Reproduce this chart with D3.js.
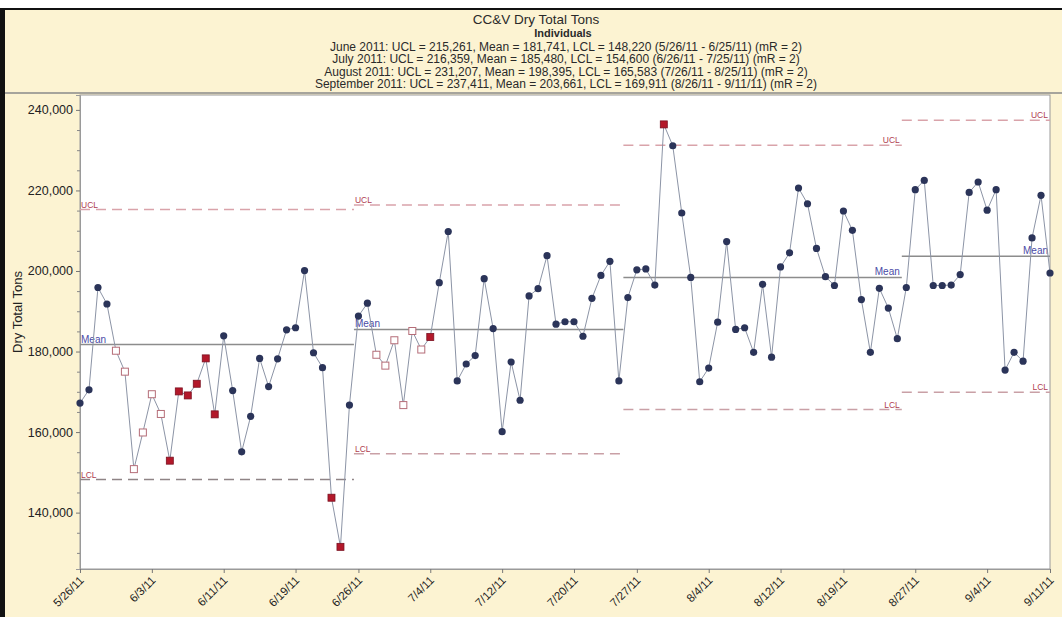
<!DOCTYPE html>
<html>
<head>
<meta charset="utf-8">
<script src="https://cdn.jsdelivr.net/npm/d3@7"></script>
<style>
  body { margin: 0; background: #fff; }
  svg { display: block; font-family: Arial, "Liberation Sans", sans-serif; }
</style>
</head>
<body>
<svg id="chart" width="1062" height="617"></svg>
<script>
// daily values, one per day starting 5/26/11
var firstDay = "2011-05-26";
var tons = [
  167200, 170500, 195900, 191800, 180200, 175000, 150800, 159900, 169400, 164500,
  152900, 170100, 169100, 172000, 178300, 164400, 183900, 170300, 155100, 163900,
  178300, 171300, 178200, 185400, 185900, 200100, 179700, 176000, 143700, 131500,
  166700, 188800, 192000, 179200, 176500, 182800, 166700, 185100, 180500, 183600,
  197100, 209800, 172700, 176900, 179000, 198100, 185700, 160100, 177400, 167900,
  193800, 195600, 203800, 186800, 187400, 187400, 183800, 193200, 198900, 202400,
  172700, 193400, 200300, 200500, 196500, 236400, 231100, 214400, 198400, 172500,
  175900, 187300, 207300, 185500, 185900, 179800, 196700, 178600, 201000, 204500,
  220600, 216700, 205600, 198600, 196400, 214900, 210100, 192900, 179800, 195700,
  190800, 183200, 195900, 220200, 222500, 196400, 196400, 196500, 199100, 219500,
  222100, 215100, 220200, 175400, 179800, 177600, 208200, 218800, 199500
];
// points flagged by the run rules (index into tons)
var openPts = [4, 5, 6, 7, 8, 9, 33, 34, 35, 36, 37, 38];
var redPts = [10, 11, 12, 13, 14, 15, 28, 29, 39, 65];

var periods = ["June 2011", "July 2011", "August 2011", "September 2011"];
var periodFrom = ["2011-05-26", "2011-06-26", "2011-07-26", "2011-08-26"];
var periodTo = ["2011-06-25", "2011-07-25", "2011-08-25", "2011-09-11"];
var ucl = [215261, 216359, 231207, 237411];
var mean = [181741, 185480, 198395, 203661];
var lcl = [148220, 154600, 165583, 169911];
var labelSide = ["left", "left", "right", "right"];

var xTicks = ["2011-05-26", "2011-06-03", "2011-06-11", "2011-06-19", "2011-06-26", "2011-07-04",
  "2011-07-12", "2011-07-20", "2011-07-27", "2011-08-04", "2011-08-12", "2011-08-19",
  "2011-08-27", "2011-09-04", "2011-09-11"];
var yTicks = [140000, 160000, 180000, 200000, 220000, 240000];

var parse = d3.timeParse("%Y-%m-%d");
var fmtNum = d3.format(",");
var fmtDate = function (d) { return (d.getMonth() + 1) + "/" + d.getDate() + "/" + String(d.getFullYear()).slice(2); };

var svg = d3.select("#chart");
var W = 1062, H = 617;
var pLeft = 80, pRight = 1050, pTop = 95, pBottom = 569;

// frame / background
svg.append("rect").attr("width", W).attr("height", H).attr("fill", "#fff");
svg.append("rect").attr("x", 0).attr("y", 9).attr("width", W).attr("height", H - 9).attr("fill", "#fcf3d2");
svg.append("line").attr("x1", 0).attr("x2", W).attr("y1", 9).attr("y2", 9).attr("stroke", "#111").attr("stroke-width", 2);
svg.append("rect").attr("x", 0).attr("y", 9).attr("width", 5).attr("height", H - 9).attr("fill", "#111");
svg.append("line").attr("x1", 5).attr("x2", W).attr("y1", 93).attr("y2", 93).attr("stroke", "#8a8a8a").attr("stroke-width", 1.5);
svg.append("rect").attr("x", pLeft).attr("y", pTop).attr("width", pRight - pLeft).attr("height", pBottom - pTop)
  .attr("fill", "#fff").attr("stroke", "#9a9a9a").attr("stroke-width", 1);

var start = parse(firstDay);
var days = tons.map(function (v, i) { return d3.timeDay.offset(start, i); });

var x = d3.scaleTime().domain([start, parse("2011-09-11")]).range([pLeft, pRight]);
var y = d3.scaleLinear().domain([126000, 243700]).range([pBottom, pTop]);

// titles
svg.append("text").attr("x", 536).attr("y", 24).attr("text-anchor", "middle").attr("font-size", 13.5).attr("fill", "#2a2a2a").text("CC&V Dry Total Tons");
svg.append("text").attr("x", 563).attr("y", 37).attr("text-anchor", "middle").attr("font-size", 11).attr("font-weight", "bold").attr("fill", "#2a2a2a").text("Individuals");
periods.forEach(function (p, i) {
  var line = p + ": UCL = " + fmtNum(ucl[i]) + ", Mean = " + fmtNum(mean[i]) + ", LCL = " + fmtNum(lcl[i]) +
    " (" + fmtDate(parse(periodFrom[i])) + " - " + fmtDate(parse(periodTo[i])) + ") (mR = 2)";
  svg.append("text").attr("x", 566).attr("y", 51 + i * 12.3).attr("text-anchor", "middle").attr("font-size", 12).attr("fill", "#2a2a2a").text(line);
});

// y axis
var yAxis = d3.axisLeft(y).tickValues(yTicks).tickFormat(fmtNum).tickSize(4).tickPadding(3);
var gy = svg.append("g").attr("transform", "translate(" + pLeft + ",0)").call(yAxis);
gy.select(".domain").attr("stroke", "#9a9a9a");
gy.selectAll(".tick line").attr("stroke", "#777");
gy.selectAll(".tick text").attr("font-size", 12.5).attr("fill", "#222").attr("font-family", "Arial, 'Liberation Sans', sans-serif");
var yMinor = d3.axisLeft(y).tickValues(d3.range(130000, 241000, 5000).filter(function (v) { return v % 20000 != 0; })).tickSize(3).tickFormat("");
var gym = svg.append("g").attr("transform", "translate(" + pLeft + ",0)").call(yMinor);
gym.select(".domain").remove();
gym.selectAll(".tick line").attr("stroke", "#888");

svg.append("text").attr("transform", "translate(22,312) rotate(-90)").attr("text-anchor", "middle")
  .attr("font-size", 13).attr("fill", "#222").text("Dry Total Tons");

// x axis
var xAxis = d3.axisBottom(x).tickValues(xTicks.map(parse)).tickFormat(fmtDate).tickSize(4);
var gx = svg.append("g").attr("transform", "translate(0," + pBottom + ")").call(xAxis);
gx.select(".domain").attr("stroke", "#9a9a9a");
gx.selectAll(".tick line").attr("stroke", "#777");
gx.selectAll(".tick text").attr("font-size", 11.5).attr("fill", "#222").attr("font-family", "Arial, 'Liberation Sans', sans-serif")
  .attr("text-anchor", "end").attr("dy", null).attr("y", 0)
  .attr("transform", "translate(4,12) rotate(-45)");

// control limit segments
var halfDay = 12 * 3600 * 1000;
function segX(i, which) {
  var d = which == 0 ? new Date(+parse(periodFrom[i]) - halfDay) : new Date(+parse(periodTo[i]) + halfDay);
  return Math.max(pLeft, Math.min(pRight, x(d)));
}
var limits = svg.append("g");
periods.forEach(function (p, i) {
  var x0 = segX(i, 0), x1 = segX(i, 1);
  limits.append("line").attr("x1", x0).attr("x2", x1).attr("y1", y(ucl[i])).attr("y2", y(ucl[i]))
    .attr("stroke", "#d9a3aa").attr("stroke-width", 1.5).attr("stroke-dasharray", "10,6");
  limits.append("line").attr("x1", x0).attr("x2", x1).attr("y1", y(lcl[i])).attr("y2", y(lcl[i]))
    .attr("stroke", i == 0 ? "#8f8486" : "#c9a0a6").attr("stroke-width", 1.5).attr("stroke-dasharray", "10,6");
  limits.append("line").attr("x1", x0).attr("x2", x1).attr("y1", y(mean[i])).attr("y2", y(mean[i]))
    .attr("stroke", "#8c8c8c").attr("stroke-width", 1.5);

  var lx = labelSide[i] == "left" ? x0 + 1 : x1 - 2;
  var anchor = labelSide[i] == "left" ? "start" : "end";
  [["UCL", ucl[i], "#b04050"], ["Mean", mean[i], "#4a4aa6"], ["LCL", lcl[i], "#b04050"]].forEach(function (l) {
    limits.append("text").attr("x", lx).attr("y", y(l[1]) - 2).attr("text-anchor", anchor)
      .attr("font-size", l[0] == "Mean" ? 10 : 8.5).attr("fill", l[2]).text(l[0]);
  });
});

// data line
var line = d3.line().x(function (d, i) { return x(days[i]); }).y(function (d) { return y(d); });
svg.append("path").datum(tons).attr("d", line).attr("fill", "none").attr("stroke", "#8c94a6").attr("stroke-width", 1);

// markers
var pts = svg.append("g");
tons.forEach(function (v, i) {
  var px = x(days[i]), py = y(v);
  if (redPts.indexOf(i) >= 0) {
    pts.append("rect").attr("x", px - 3.5).attr("y", py - 3.5).attr("width", 7).attr("height", 7)
      .attr("fill", "#b3182a").attr("stroke", "#7a1020").attr("stroke-width", 0.8);
  } else if (openPts.indexOf(i) >= 0) {
    pts.append("rect").attr("x", px - 3.5).attr("y", py - 3.5).attr("width", 7).attr("height", 7)
      .attr("fill", "#fff").attr("stroke", "#b56d78").attr("stroke-width", 1);
  } else {
    pts.append("circle").attr("cx", px).attr("cy", py).attr("r", 3.6).attr("fill", "#2b3459");
  }
});
</script>
</body>
</html>
